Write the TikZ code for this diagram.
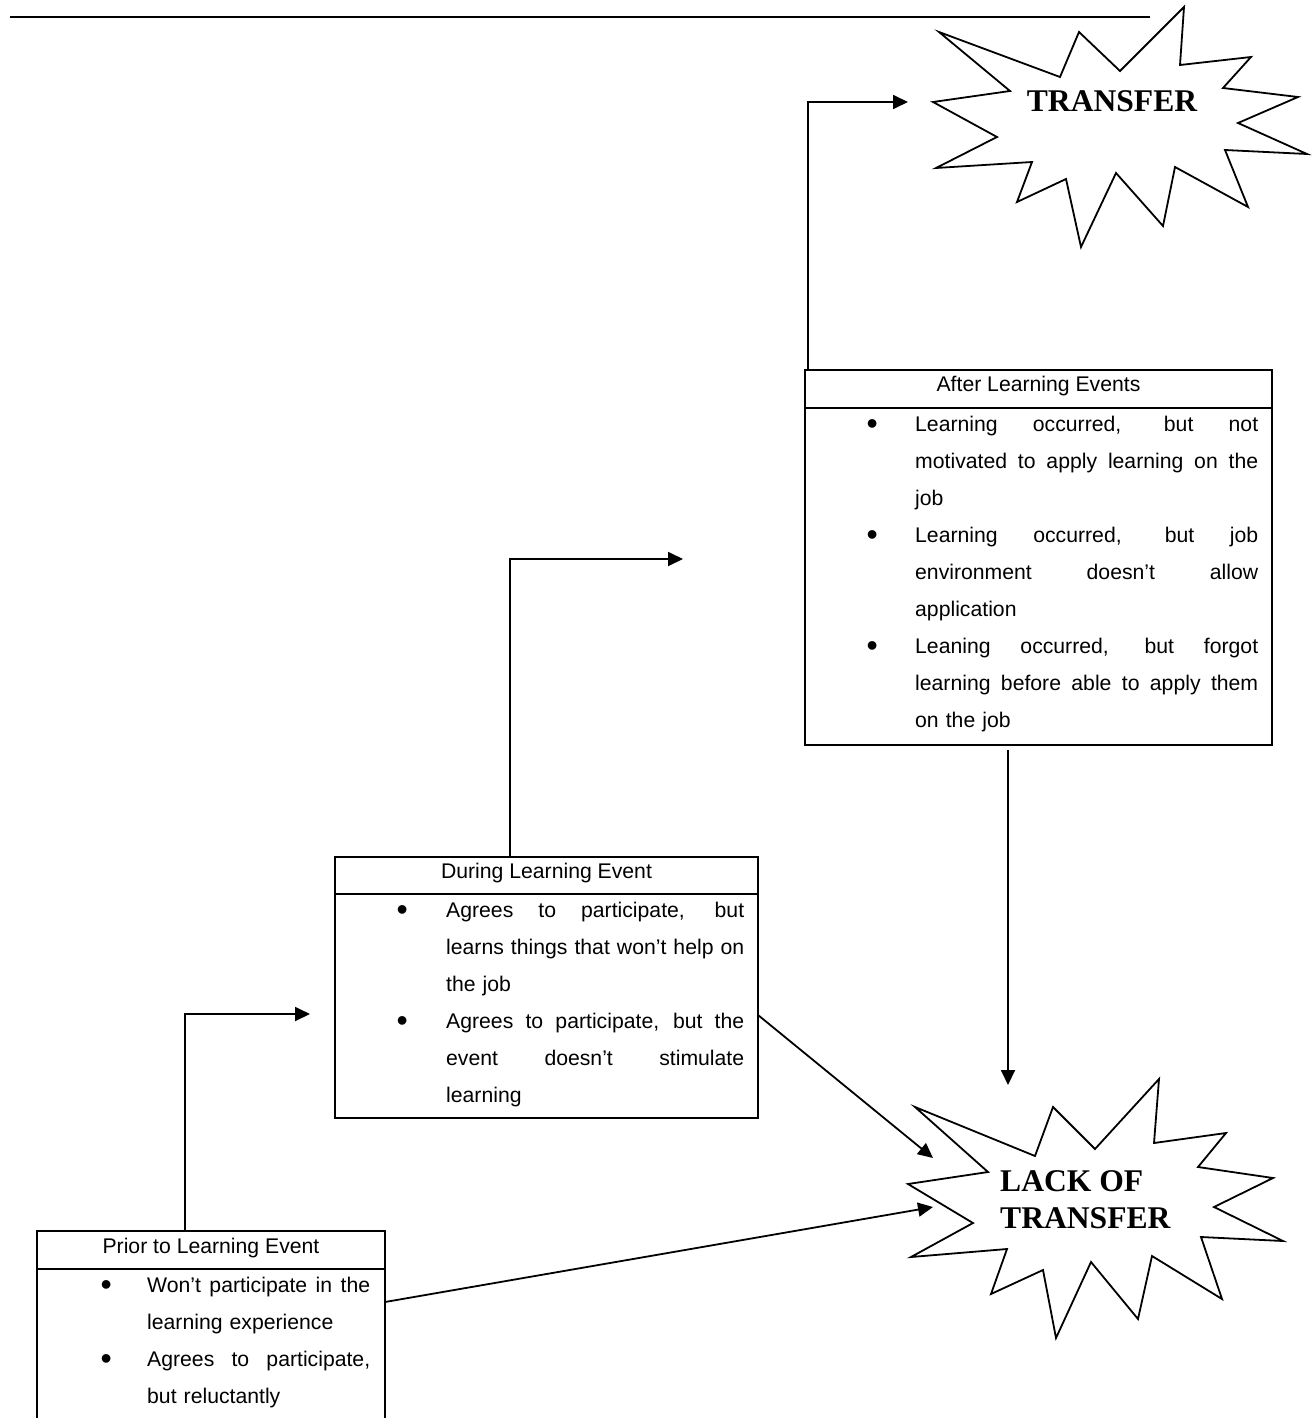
\documentclass[tikz,border=0pt]{standalone}
\usepackage{fontspec}
\setmainfont{Liberation Sans}
\newfontfamily\serifbold{Liberation Serif}
\usetikzlibrary{arrows.meta}
\newcommand{\jl}[2]{{\spaceskip=0pt\xspaceskip=0pt\makebox[#1pt][s]{#2}}}
\newcommand{\bul}[1]{\makebox[#1pt][l]{\hspace*{-1.6pt}\raisebox{-3.5pt}{\fontsize{32}{37}\selectfont\textbullet}}}
\tikzset{
  boxnode/.style={draw, line width=2pt, inner sep=0pt, outer sep=0pt, anchor=north west},
  arr/.style={line width=1.8pt, -{Triangle[length=15pt,width=14pt]}},
  starshape/.style={line width=1.8pt, line join=miter},
  hdr/.style={font=\fontsize{21.2}{25}\selectfont, anchor=base, inner sep=0pt},
  body/.style={anchor=north west, inner sep=0pt, text width=#1, align=left, font=\fontsize{21.2}{37}\selectfont},
  startxt/.style={font=\serifbold\bfseries\fontsize{31.6}{37}\selectfont, inner sep=0pt, align=left}
}
\begin{document}
\begin{tikzpicture}[x=1pt,y=-1pt]
\useasboundingbox (0,0) rectangle (1312,1418);
% top rule
\coordinate (rulea) at (10,17);
\coordinate (ruleb) at (1150,17);
\draw[line width=2pt] (rulea) -- (ruleb);

% boxes
\node[boxnode, minimum width=348pt, minimum height=199pt] (prior) at (37,1231) {};
\node[boxnode, minimum width=423pt, minimum height=261pt] (during) at (335,857) {};
\node[boxnode, minimum width=467pt, minimum height=375pt] (after) at (805,370) {};
\draw[line width=2pt] ([yshift=-38pt]prior.north west) -- ([yshift=-38pt]prior.north east);
\draw[line width=2pt] ([yshift=-37pt]during.north west) -- ([yshift=-37pt]during.north east);
\draw[line width=2pt] ([yshift=-38pt]after.north west) -- ([yshift=-38pt]after.north east);

% headers
\node[hdr] (priorh) at (211,1253) {Prior to Learning Event};
\node[hdr] (duringh) at (546.5,878) {During Learning Event};
\node[hdr] (afterh) at (1038.5,391) {After Learning Events};

% bodies
\node[body=400pt] (afterb) at (868,405.1) {\strut\bul{47}\jl{343}{Learning occurred, but not}\\
\hspace*{47pt}\jl{343}{motivated to apply learning on the}\\
\hspace*{47pt}job\\
\bul{47}\jl{343}{Learning occurred, but job}\\
\hspace*{47pt}\jl{343}{environment doesn’t allow}\\
\hspace*{47pt}application\\
\bul{47}\jl{343}{Leaning occurred, but forgot}\\
\hspace*{47pt}\jl{343}{learning before able to apply them}\\
\hspace*{47pt}on the job};

\node[body=360pt] (duringb) at (398,891.1) {\strut\bul{48}\jl{298}{Agrees to participate, but}\\
\hspace*{48pt}\jl{298}{learns things that won’t help on}\\
\hspace*{48pt}the job\\
\bul{48}\jl{298}{Agrees to participate, but the}\\
\hspace*{48pt}\jl{298}{event doesn’t stimulate}\\
\hspace*{48pt}learning};

\node[body=280pt] (priorb) at (102,1266.1) {\strut\bul{45}\jl{223}{Won’t participate in the}\\
\hspace*{45pt}learning experience\\
\bul{45}\jl{223}{Agrees to participate,}\\
\hspace*{45pt}but reluctantly};

% starbursts
\draw[starshape] (939,32) -- (1060,77) -- (1079,32) -- (1120,71) -- (1184,7) -- (1180,65)
  -- (1251,57) -- (1223,88) -- (1298,97) -- (1238,123) -- (1307,154) -- (1225,150)
  -- (1248,207) -- (1175,167) -- (1163,226) -- (1116,173) -- (1081,247) -- (1066,179)
  -- (1017,202) -- (1032,162) -- (936,168) -- (997,137) -- (933,102) -- (1010,91) -- cycle;
\node[startxt, anchor=base] (transfer) at (1112,112) {TRANSFER};

\draw[starshape] (915,1107) -- (1035,1156) -- (1053,1107) -- (1095,1149) -- (1159,1079)
  -- (1154,1143) -- (1226,1133) -- (1198,1167) -- (1273,1178) -- (1214,1207) -- (1283,1241)
  -- (1201,1237) -- (1222,1299) -- (1152,1256) -- (1138,1319) -- (1091,1262) -- (1056,1338)
  -- (1043,1270) -- (991,1294) -- (1007,1249) -- (911,1257) -- (973,1223) -- (908,1184)
  -- (988,1172) -- cycle;
\node[startxt, anchor=north west] (lack) at (1000,1165.1) {\strut LACK OF\\TRANSFER};

% arrow tips
\coordinate (t1) at (310,1014);
\coordinate (t2) at (683,559);
\coordinate (t3) at (908,102);
\coordinate (t4) at (1008,1085);
\coordinate (t5) at (933,1158);
\coordinate (t6) at (933,1207);

% connectors
\draw[arr] ([xshift=148pt]prior.north west) |- (t1);
\draw[arr] ([xshift=175pt]during.north west) |- (t2);
\draw[arr] ([xshift=3pt]after.north west) |- (t3);
\draw[arr] ([shift={(203,5)}]after.south west) -- (t4);
\draw[arr] ([shift={(0,158)}]during.north east) -- (t5);
\draw[arr] ([shift={(0,71)}]prior.north east) -- (t6);
\end{tikzpicture}
\end{document}
